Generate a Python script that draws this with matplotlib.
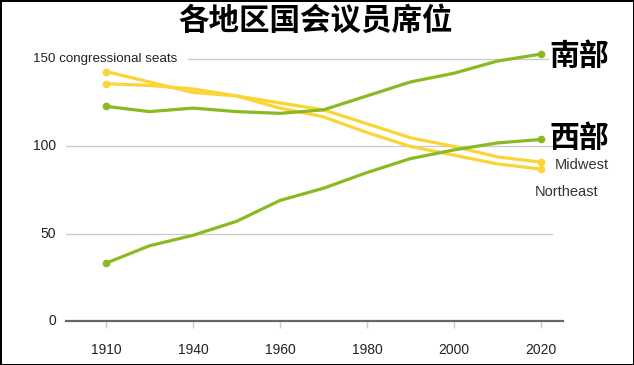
import matplotlib
matplotlib.use("Agg")
import matplotlib.pyplot as plt

# Census years with a reapportionment (no 1920 reapportionment), shown as evenly spaced points.
years = [1910, 1930, 1940, 1950, 1960, 1970, 1980, 1990, 2000, 2010, 2020]
tick_years = [1910, 1940, 1960, 1980, 2000, 2020]

south = [123, 120, 122, 120, 119, 121, 129, 137, 142, 149, 153]
west = [33, 43, 49, 57, 69, 76, 85, 93, 98, 102, 104]
midwest = [143, 137, 131, 129, 125, 121, 113, 105, 100, 94, 91]
northeast = [136, 135, 133, 129, 122, 117, 108, 100, 95, 90, 87]

y_ticks = [0, 50, 100]

GREEN = "#8aba22"
YELLOW = "#fbd435"
CJK = ["Noto Sans CJK SC", "DejaVu Sans"]
LATIN = "Liberation Sans"

fig = plt.figure(figsize=(6.34, 3.65), dpi=100, edgecolor="black", linewidth=2)
ax = fig.add_axes([66 / 634, 0.1214, (563 - 66) / 634, 0.8852 - 0.1214])

idx = list(range(len(years)))

for series, color in [(midwest, YELLOW), (northeast, YELLOW), (west, GREEN), (south, GREEN)]:
    ax.plot(idx, series, color=color, lw=2.3, solid_capstyle="round", zorder=3)
    ax.plot([idx[0], idx[-1]], [series[0], series[-1]], "o", color=color, ms=4.5, zorder=4)

ax.set_xlim(-0.92, 10.51)
ax.set_ylim(0, 160)

# light gridlines, the 150 one starts after its label
for v in y_ticks[1:]:
    ax.axhline(v, xmin=0, xmax=0.978, color="#cccccc", lw=1, zorder=1)
ax.axhline(150, xmin=(188 - 66) / 497, xmax=0.97, color="#cccccc", lw=1, zorder=1)

for s in ["top", "right", "left"]:
    ax.spines[s].set_visible(False)
ax.spines["bottom"].set_color("#666666")
ax.spines["bottom"].set_linewidth(1.6)

ax.set_xticks([years.index(y) for y in tick_years])
ax.set_xticklabels([str(y) for y in tick_years], fontsize=10, family=LATIN, color="#222222")
ax.tick_params(axis="x", length=5, color="#cccccc", width=1, pad=11)
ax.set_yticks([])

label_x = -0.92 - 10 / 43.5
for v in y_ticks:
    ax.text(label_x, v, str(v), ha="right", va="center",
            fontsize=10, family=LATIN, color="#222222")
ax.text(-0.92 - 33 / 43.5, 150, "150 congressional seats", ha="left", va="center",
        fontsize=9.6, family=LATIN, color="#222222")

ax.text(10.2, south[-1] - 1, "南部", ha="left", va="center", fontsize=21.5,
        fontweight="bold", family=CJK, color="black")
ax.text(10.2, west[-1] + 1, "西部", ha="left", va="center", fontsize=21.5,
        fontweight="bold", family=CJK, color="black")
ax.text(10.32, midwest[-1] - 1.8, "Midwest", ha="left", va="center", fontsize=10.5,
        family=LATIN, color="#333333")
ax.text(9.87, northeast[-1] - 13, "Northeast", ha="left", va="center", fontsize=10.5,
        family=LATIN, color="#333333")

fig.text(0.497, 0.942, "各地区国会议员席位", ha="center", va="center", fontsize=22,
         fontweight="bold", family=CJK, color="black")

fig.savefig("out.png", dpi=100, edgecolor=fig.get_edgecolor())
